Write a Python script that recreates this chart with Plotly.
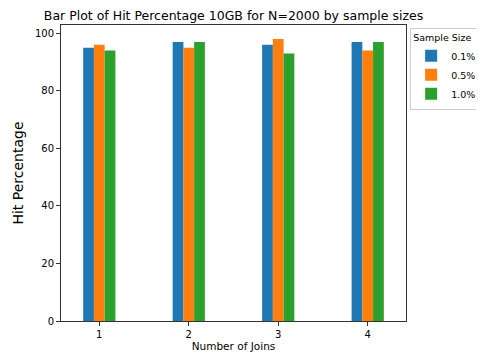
import plotly.graph_objects as go

joins = [1, 2, 3, 4]
series_names = ["0.1%", "0.5%", "1.0%"]
hit_01 = [95, 97, 96, 97]
hit_05 = [96, 95, 98, 94]
hit_10 = [94, 97, 93, 97]
colors = ["#1f77b4", "#ff7f0e", "#2ca02c"]

bar_w = 0.12
offsets = [-0.18, -0.06, 0.06]

fig = go.Figure()
for name, vals, c, off in zip(series_names, [hit_01, hit_05, hit_10], colors, offsets):
    fig.add_trace(go.Bar(x=joins, y=vals, name=name, width=bar_w, offset=off,
                         marker=dict(color=c, line=dict(width=0))))

# page body has an 8px margin, so the figure is sized 8px smaller
W, H = 476, 347
L, R, T, B = 53, 78, 17, 34
font = "DejaVu Sans, sans-serif"
fig.update_layout(
    width=W, height=H,
    margin=dict(l=L, r=R, t=T, b=B, autoexpand=False),
    plot_bgcolor="white", paper_bgcolor="white",
    barmode="overlay",
    font=dict(family=font, size=10, color="black"),
    title=dict(text="Bar Plot of Hit Percentage 10GB for N=2000 by sample sizes",
               x=(L + (W - R)) / 2 / W, xanchor="center", y=1 - 3 / H, yanchor="top",
               pad=dict(t=0, b=0), font=dict(size=12.5, family=font, color="black")),
    legend=dict(title=dict(text="Sample Size", font=dict(size=9.5)),
                x=1.012, xanchor="left", y=0.99, yanchor="top",
                bordercolor="#cccccc", borderwidth=1, font=dict(size=9.5),
                tracegroupgap=0, itemsizing="constant", itemwidth=30),
    showlegend=True,
)
fig.update_xaxes(range=[0.572, 4.428], tickvals=joins, ticktext=[str(j) for j in joins],
                 showline=True, linecolor="#333333", linewidth=1, mirror=True,
                 ticks="outside", ticklen=4, tickcolor="#333333", showgrid=False, zeroline=False,
                 automargin=False,
                 title=dict(text="Number of Joins", font=dict(size=10.5), standoff=2))
fig.update_yaxes(range=[0, 102.9], tickvals=[0, 20, 40, 60, 80, 100],
                 showline=True, linecolor="#333333", linewidth=1, mirror=True,
                 ticks="outside", ticklen=4, tickcolor="#333333", showgrid=False, zeroline=False,
                 automargin=False,
                 title=dict(text="Hit Percentage", font=dict(size=14), standoff=8))

fig.write_html("out.html")
